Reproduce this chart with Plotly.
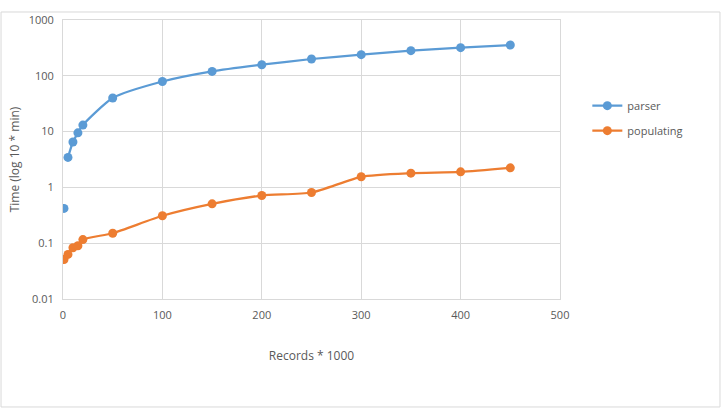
import plotly.graph_objects as go

x_records = [1, 5, 10, 15, 20, 50, 100, 150, 200, 250, 300, 350, 400, 450]
parser_x = [1, None, 5, 10, 15, 20, 50, 100, 150, 200, 250, 300, 350, 400, 450]
parser_y = [0.42, None, 3.45, 6.5, 9.5, 13.1, 40, 79, 120, 158, 200, 239, 282, 319, 356]
populating_y = [0.051, 0.063, 0.083, 0.09, 0.116, 0.151, 0.31, 0.507, 0.715, 0.81, 1.55, 1.80, 1.90, 2.24]

y_tickvals = [0.01, 0.1, 1, 10, 100, 1000]
y_ticktext = ["0.01", "0.1", "1", "10", "100", "1000"]
x_tickvals = [0, 100, 200, 300, 400, 500]

BLUE = "#5B9BD5"
ORANGE = "#ED7D31"
GRID = "#D9D9D9"
TXT = "#595959"
FONT = "Open Sans"

fig = go.Figure()
fig.add_trace(go.Scatter(
    x=parser_x, y=parser_y, name="parser", mode="lines+markers", legendgroup="a",
    line=dict(color=BLUE, width=2.25, shape="spline", smoothing=0.6),
    marker=dict(color=BLUE, size=9), connectgaps=False))
fig.add_trace(go.Scatter(
    x=x_records, y=populating_y, name="populating", mode="lines+markers", legendgroup="b",
    line=dict(color=ORANGE, width=2.25, shape="spline", smoothing=0.6),
    marker=dict(color=ORANGE, size=9)))

fig.update_layout(
    width=725, height=418,
    margin=dict(l=63, r=165, t=20, b=119),
    paper_bgcolor="white", plot_bgcolor="white",
    font=dict(family=FONT, size=11, color=TXT),
    showlegend=True,
    legend=dict(x=1.055, y=0.745, xanchor="left", yanchor="top",
                font=dict(family=FONT, size=11, color=TXT),
                tracegroupgap=6, itemwidth=30, bgcolor="rgba(0,0,0,0)"),
    shapes=[dict(type="rect", xref="paper", yref="paper",
                 x0=-0.1247, x1=1.3219, y0=-0.387, y1=1.0287,
                 line=dict(color=GRID, width=1), fillcolor="rgba(0,0,0,0)", layer="below")],
)
fig.update_xaxes(
    range=[0, 500], tickvals=x_tickvals, showgrid=True, gridcolor=GRID, gridwidth=1,
    zeroline=False, showline=True, linecolor=GRID, mirror=True, ticks="",
    tickfont=dict(size=11, color=TXT), ticklabelstandoff=6,
    title=dict(text="Records * 1000", font=dict(size=12, color=TXT), standoff=30))
fig.update_yaxes(
    type="log", range=[-2, 3], tickvals=y_tickvals, ticktext=y_ticktext,
    showgrid=True, gridcolor=GRID, gridwidth=1, zeroline=False,
    showline=True, linecolor=GRID, mirror=True, ticks="",
    tickfont=dict(size=11, color=TXT), ticklabelstandoff=6,
    title=dict(text="Time (log 10 * min)", font=dict(size=12, color=TXT), standoff=6))

fig.write_html("out.html")
